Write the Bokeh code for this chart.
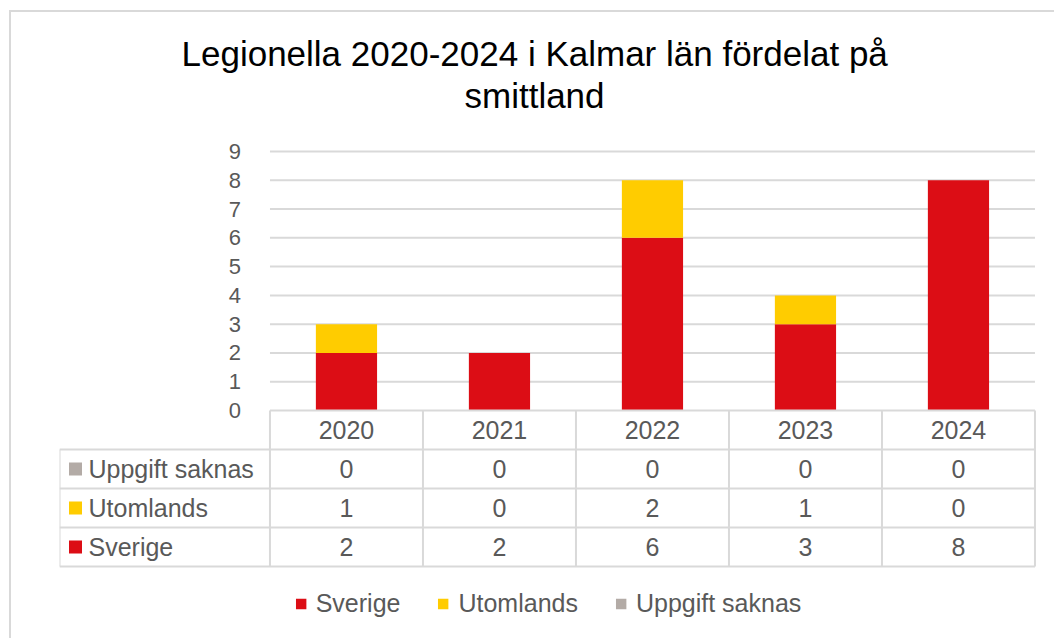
from bokeh.plotting import figure
from bokeh.models import Legend, LegendItem, Range1d, ColumnDataSource, Title
from bokeh.core.properties import value
from bokeh.embed import file_html
from bokeh.resources import INLINE

# ---------------- data ----------------
title_lines = ["Legionella 2020-2024 i Kalmar län fördelat på", "smittland"]
years = ["2020", "2021", "2022", "2023", "2024"]
series_names = ["Sverige", "Utomlands", "Uppgift saknas"]
sverige = [2, 2, 6, 3, 8]
utomlands = [1, 0, 2, 1, 0]
uppgift_saknas = [0, 0, 0, 0, 0]
series_colors = ["#DC0D15", "#FFCC00", "#B3ABA6"]
y_ticks = [0, 1, 2, 3, 4, 5, 6, 7, 8, 9]

# ---------------- style ----------------
FONT = "Liberation Sans"
TXT = "#595959"
LINE = "#D9D9D9"
ML, MR, MT, MB = 59, 18, 115, 8
FW, FH = 977, 515
n = len(years)
label_col = 1.3756         # width of row-label column (in category widths)
row_h = 1.355              # table row height (in y units)
x_start, x_end = -label_col, n + 0.01
y_start, y_end = -7.644, 10.251
px_x = FW / (x_end - x_start)

p = figure(width=ML + FW + MR, height=MT + FH + MB,
           frame_width=FW, frame_height=FH,
           output_backend="svg", toolbar_location=None,
           x_range=Range1d(x_start, x_end), y_range=Range1d(y_start, y_end),
           x_axis_location=None, y_axis_location=None, title=None,
           min_border_left=ML, min_border_right=MR,
           min_border_top=MT, min_border_bottom=MB)
p.outline_line_color = None
p.grid.visible = False
p.background_fill_color = "white"
p.border_fill_color = None
p.styles = {
    "background": ("linear-gradient(#D9D9D9, #D9D9D9) 9px 10px / 100% 2px no-repeat, "
                   "linear-gradient(#D9D9D9, #D9D9D9) 9px 10px / 2px 100% no-repeat, white"),
}

# title: two lines, each placed over the chart (closest to the plot first)
for line, so, off in zip(reversed(title_lines), [2, 0], [405, 122]):
    t = Title(text=line, align="left", offset=off, text_font=FONT,
              text_font_size="35px", text_font_style="normal",
              text_color="#000000", standoff=so)
    p.add_layout(t, "above")

# grid lines
grid_y = y_ticks[1:]
p.segment(x0=[0] * len(grid_y), x1=[n] * len(grid_y), y0=grid_y, y1=grid_y,
          line_color=LINE, line_width=2)

# value-axis tick labels
p.text(x=[-29 / px_x] * len(y_ticks), y=y_ticks, text=[str(t) for t in y_ticks],
       text_align="right", text_baseline="middle", text_font=value(FONT),
       text_font_size="22px", text_color=TXT)

# stacked bars
xs = [i + 0.5 for i in range(n)]
src = ColumnDataSource(dict(x=xs, Sverige=sverige, Utomlands=utomlands,
                            **{"Uppgift saknas": uppgift_saknas}))
rends = p.vbar_stack(series_names, x="x", width=0.4, source=src,
                     fill_color=series_colors, line_color=None)

# data table lines
n_rows = len(series_names) + 1
hy = [-k * row_h for k in range(1, n_rows + 1)]
p.segment(x0=[0] + [x_start] * len(hy), x1=[n] * (len(hy) + 1),
          y0=[0] + hy, y1=[0] + hy, line_color=LINE, line_width=2)
vx = list(range(n + 1))
p.segment(x0=[x_start] + vx, x1=[x_start] + vx,
          y0=[-row_h] + [0] * len(vx), y1=[-n_rows * row_h] * (len(vx) + 1),
          line_color=LINE, line_width=2)

# header row (categories)
p.text(x=xs, y=[-row_h / 2] * n, text=years, text_align="center",
       text_baseline="middle", text_font=value(FONT), text_font_size="25px",
       text_color=TXT)

# table rows: top to bottom = reversed series order
series_vals = [sverige, utomlands, uppgift_saknas]
rows = list(zip(series_names, series_vals, series_colors))[::-1]
for k, (name, vals, col) in enumerate(rows, start=1):
    yc = -(k + 0.5) * row_h
    p.scatter(x=[x_start + 16 / px_x], y=[yc], marker="square", size=13,
              fill_color=col, line_color=None)
    p.text(x=[x_start + 29 / px_x], y=[yc], text=[name], text_align="left",
           text_baseline="middle", text_font=value(FONT), text_font_size="25px",
           text_color=TXT)
    p.text(x=xs, y=[yc] * n, text=[str(v) for v in vals], text_align="center",
           text_baseline="middle", text_font=value(FONT), text_font_size="25px",
           text_color=TXT)

legend = Legend(items=[LegendItem(label=nm, renderers=[r]) for nm, r in zip(series_names, rends)],
                orientation="horizontal", location="bottom_center",
                glyph_width=13, glyph_height=13, label_standoff=9, spacing=36,
                padding=0, margin=12, border_line_color=None,
                background_fill_color=None,
                label_text_font=FONT, label_text_font_size="25px",
                label_text_color=TXT)
p.add_layout(legend)

open("out.html", "w").write(file_html(p, INLINE))
